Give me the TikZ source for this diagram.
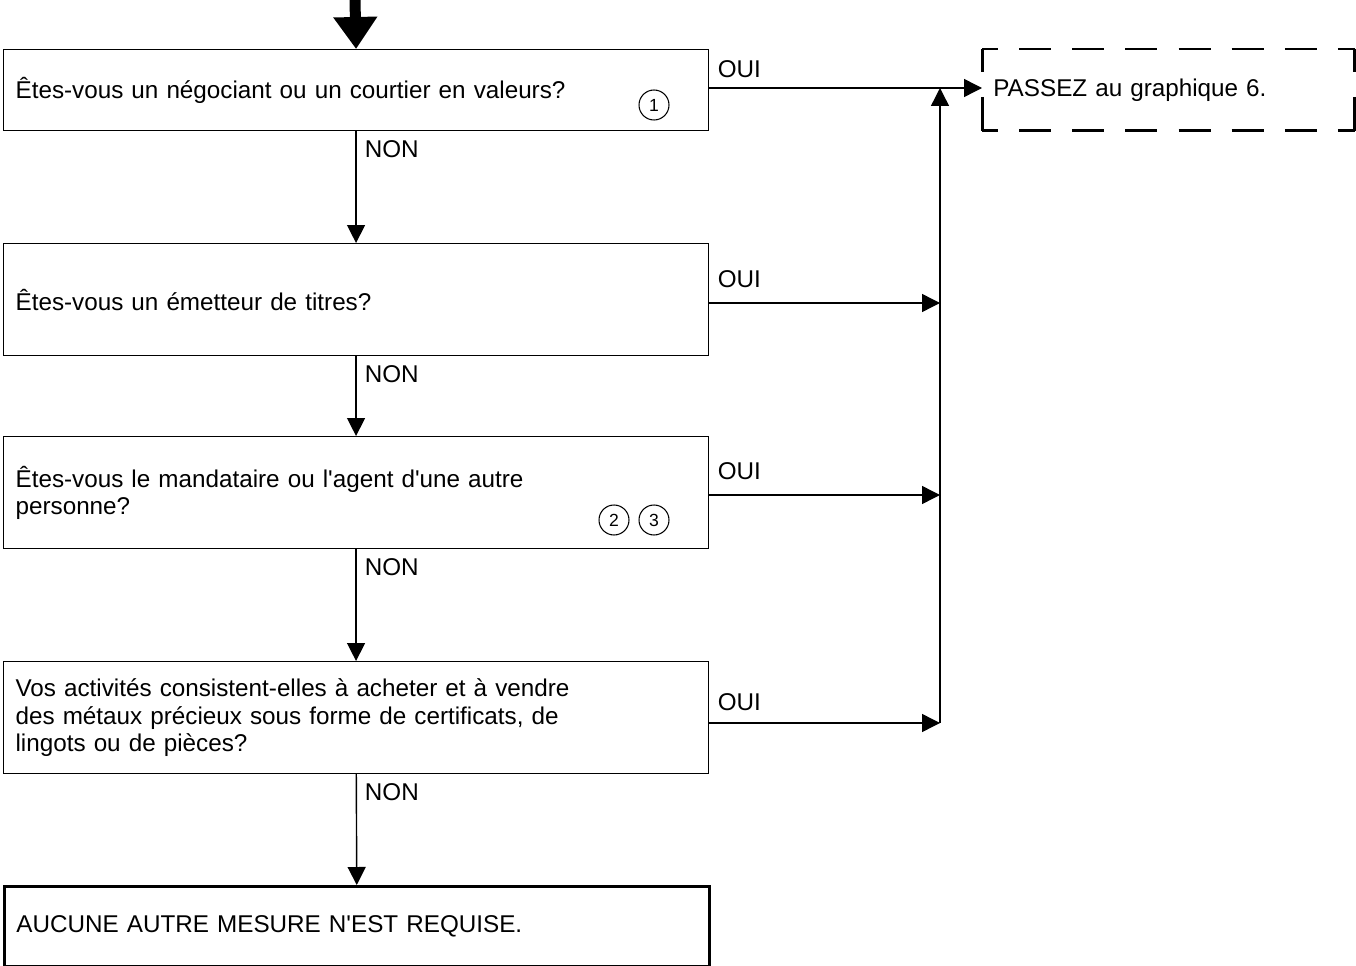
\documentclass[tikz,border=0pt]{standalone}
\usepackage{fontspec}
\setmainfont{Liberation Sans}
\usepackage{tikz}
\usetikzlibrary{arrows.meta}

\begin{document}
\begin{tikzpicture}[x=0.02cm,y=-0.02cm]
			\tikzstyle{question}=[draw,line width=0.7pt,anchor=north west,minimum width=14.1cm,text width=13.62cm,inner xsep=0.24cm,align=left,font=\fontsize{13.8}{15.4}\selectfont]
			\tikzstyle{target}=[anchor=north west,minimum width=7.44cm,minimum height=1.62cm,text width=7.0cm,inner xsep=0.22cm,align=left,font=\fontsize{13.8}{15.4}\selectfont]
			\tikzstyle{hborder}=[line width=1.7pt,dash pattern=on 0.64cm off 0.4228cm,dash phase=0.32cm]
			\tikzstyle{vborder}=[line width=1.7pt,dash pattern=on 1.12cm off 0.5cm,dash phase=0.66cm]
			\tikzstyle{note}=[circle,draw,line width=0.6pt,minimum size=0.6cm,inner sep=0pt,font=\fontsize{10}{10}\selectfont]
			\tikzstyle{answer}=[inner sep=0pt,font=\fontsize{13.8}{15.4}\selectfont]
			\tikzstyle{flow}=[-{Triangle[length=0.36cm,width=0.36cm]},line width=0.8pt]
			
			\useasboundingbox (0,0) rectangle (1356,966);
			
			% questions
			\node [question,minimum height=1.62cm] (q1) at (3,49) {Êtes-vous un négociant ou un courtier en valeurs?};
			\node [question,minimum height=2.24cm] (q2) at (3,243) {Êtes-vous un émetteur de titres?};
			\node [question,minimum height=2.24cm] (q3) at (3,436) {Êtes-vous le mandataire ou l\textquotesingle agent d\textquotesingle une autre\\personne?};
			\node [question,minimum height=2.24cm] (q4) at (3,661) {Vos activités consistent-elles à acheter et à vendre\\des métaux précieux sous forme de certificats, de\\lingots ou de pièces?};
			\node [question,minimum height=1.6cm,line width=1.7pt] (stop) at (3,885) {AUCUNE AUTRE MESURE N\textquotesingle EST REQUISE.};
			
			% dashed target
			\node [target] (passez) at (982,49) {PASSEZ au graphique 6.};
			\draw [hborder] (passez.north west) -- (passez.north east);
			\draw [hborder] (passez.south west) -- (passez.south east);
			\draw [vborder] (passez.north west) -- (passez.south west);
			\draw [vborder] (passez.north east) -- (passez.south east);
			
			% notes
			\node [note] (c1) at (654,105) {1};
			\node [note] (c2) at (614,520) {2};
			\node [note] (c3) at (654,520) {3};
			
			% entry
			\coordinate (start) at (355,0);
			\draw [line width=0.22cm,-{Triangle[length=0.64cm,width=0.84cm]}] (start) -- (q1.north);
			
			% NON
			\draw [flow] (q1) -- (q2) node [answer,pos=0,anchor=north west,xshift=0.16cm,yshift=-0.17cm] {NON};
			\draw [flow] (q2) -- (q3) node [answer,pos=0,anchor=north west,xshift=0.16cm,yshift=-0.17cm] {NON};
			\draw [flow] (q3) -- (q4) node [answer,pos=0,anchor=north west,xshift=0.16cm,yshift=-0.17cm] {NON};
			\draw [flow] (q4) -- (stop) node [answer,pos=0,anchor=north west,xshift=0.16cm,yshift=-0.17cm] {NON};
			
			% OUI
			\coordinate (j1) at (940,88);
			\coordinate (j2) at (940,303);
			\coordinate (j3) at (940,495);
			\coordinate (j4) at (940,723);
			\draw [flow] (q1.east |- j1) -- (passez.west |- j1) node [answer,pos=0,anchor=base west,xshift=0.16cm,yshift=0.2cm] {OUI};
			\draw [flow] (q2.east |- j2) -- (j2) node [answer,pos=0,anchor=base west,xshift=0.16cm,yshift=0.32cm] {OUI};
			\draw [flow] (q3.east |- j3) -- (j3) node [answer,pos=0,anchor=base west,xshift=0.16cm,yshift=0.32cm] {OUI};
			\draw [flow] (q4.east |- j4) -- (j4) node [answer,pos=0,anchor=base west,xshift=0.16cm,yshift=0.26cm] {OUI};
			\draw [flow] (j4) -- (j1);
\end{tikzpicture}
\end{document}
